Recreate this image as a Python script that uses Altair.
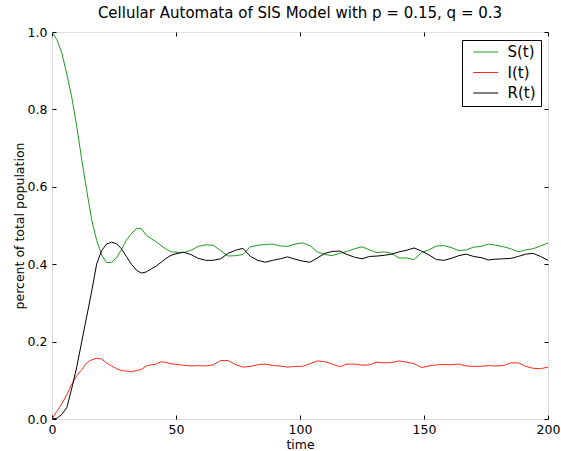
import altair as alt
import pandas as pd

time = [0, 2, 4, 6, 8, 10, 12, 14, 16, 18, 20, 22, 24, 26, 28, 30, 32, 34, 36, 38,
        40, 42, 44, 46, 48, 50, 53, 56, 59, 62, 65, 68, 71, 74, 77, 80, 83, 86, 89,
        92, 95, 98, 101, 104, 107, 110, 113, 116, 119, 122, 125, 128, 131, 134, 137,
        140, 143, 146, 149, 152, 155, 158, 161, 164, 167, 170, 173, 176, 179, 182,
        185, 188, 191, 194, 197, 200]

S = [1.0, 0.98, 0.945, 0.89, 0.83, 0.755, 0.67, 0.59, 0.515, 0.462, 0.424, 0.404,
     0.405, 0.416, 0.438, 0.462, 0.479, 0.492, 0.492, 0.475, 0.466, 0.458, 0.448,
     0.439, 0.432, 0.431, 0.43, 0.436, 0.446, 0.45, 0.449, 0.435, 0.421, 0.422,
     0.425, 0.445, 0.449, 0.451, 0.452, 0.447, 0.446, 0.452, 0.455, 0.448, 0.432,
     0.425, 0.422, 0.428, 0.433, 0.44, 0.445, 0.437, 0.43, 0.432, 0.428, 0.416,
     0.416, 0.412, 0.43, 0.437, 0.447, 0.448, 0.443, 0.435, 0.437, 0.444, 0.446,
     0.452, 0.449, 0.445, 0.44, 0.432, 0.437, 0.44, 0.447, 0.455]

I = [0.0, 0.02, 0.04, 0.063, 0.09, 0.112, 0.128, 0.145, 0.153, 0.157, 0.155, 0.145,
     0.137, 0.13, 0.125, 0.124, 0.122, 0.125, 0.128, 0.137, 0.14, 0.142, 0.148,
     0.146, 0.143, 0.141, 0.139, 0.137, 0.138, 0.137, 0.14, 0.151, 0.151, 0.141,
     0.134, 0.136, 0.14, 0.142, 0.138, 0.137, 0.134, 0.136, 0.136, 0.143, 0.15,
     0.148, 0.142, 0.135, 0.142, 0.142, 0.139, 0.14, 0.147, 0.145, 0.146, 0.15,
     0.147, 0.143, 0.133, 0.137, 0.14, 0.141, 0.14, 0.142, 0.137, 0.136, 0.136,
     0.138, 0.137, 0.138, 0.145, 0.145, 0.136, 0.131, 0.13, 0.134]

R = [0.0, 0.002, 0.012, 0.03, 0.08, 0.135, 0.2, 0.265, 0.33, 0.4, 0.435, 0.452,
     0.457, 0.453, 0.44, 0.42, 0.4, 0.385, 0.377, 0.38, 0.388, 0.395, 0.405, 0.415,
     0.423, 0.427, 0.431, 0.425, 0.415, 0.41, 0.41, 0.414, 0.428, 0.436, 0.441,
     0.42, 0.41, 0.405, 0.41, 0.414, 0.419, 0.413, 0.408, 0.405, 0.416, 0.428,
     0.433, 0.434, 0.425, 0.418, 0.414, 0.42, 0.421, 0.423, 0.426, 0.432, 0.436,
     0.442, 0.434, 0.424, 0.412, 0.41, 0.415, 0.422, 0.426, 0.42, 0.417, 0.411,
     0.413, 0.414, 0.415, 0.42, 0.426, 0.428, 0.42, 0.41]

series_names = ["S(t)", "I(t)", "R(t)"]
series_colors = ["#1f9a1f", "#ff2a1a", "#000000"]
x_ticks = [0, 50, 100, 150, 200]
y_ticks = [0.0, 0.2, 0.4, 0.6, 0.8, 1.0]

rows = []
for name, vals in zip(series_names, [S, I, R]):
    for t, v in zip(time, vals):
        rows.append({"time": t, "value": v, "series": name})
df = pd.DataFrame(rows)

FONT = "DejaVu Sans"
xscale = alt.Scale(domain=[0, 200], nice=False, zero=False)
yscale = alt.Scale(domain=[0, 1], nice=False)

common_axis = dict(domain=False, grid=False, ticks=True, tickSize=4, offset=-4,
                   tickColor="black", tickWidth=1, labelColor="black",
                   labelFont=FONT, labelFontSize=12.5, labelFlush=False,
                   labelOverlap=False, titleFont=FONT,
                   titleFontSize=12.5, titleFontWeight="normal", titleColor="black")

lines = alt.Chart(df).mark_line(strokeWidth=1, clip=True).encode(
    x=alt.X("time:Q", scale=xscale,
            axis=alt.Axis(orient="bottom", values=x_ticks, format="d", title="time",
                          labelPadding=4, titlePadding=3, **common_axis)),
    y=alt.Y("value:Q", scale=yscale,
            axis=alt.Axis(orient="left", values=y_ticks, format=".1f",
                          title="percent of total population", labelPadding=5,
                          titlePadding=1, **common_axis)),
    color=alt.Color("series:N",
                    scale=alt.Scale(domain=series_names, range=series_colors),
                    sort=series_names,
                    legend=alt.Legend(title=None, orient="none", legendX=410,
                                      legendY=8, symbolType="M-1,0H3",
                                      symbolSize=156, symbolStrokeWidth=1,
                                      symbolOffset=5.5,
                                      labelFont=FONT, labelFontSize=15,
                                      labelColor="black", strokeColor="black",
                                      fillColor="white", padding=4.5,
                                      rowPadding=4.5, labelOffset=20.5)),
    detail="series:N",
)

other_axis = dict(domain=False, grid=False, ticks=True, tickSize=4, offset=-4,
                  tickColor="black", tickWidth=1, labels=False, title=None)

frame_ticks = alt.Chart(df).mark_line(strokeOpacity=0).encode(
    x=alt.X("time:Q", scale=xscale,
            axis=alt.Axis(orient="top", values=x_ticks, **other_axis)),
    y=alt.Y("value:Q", scale=yscale,
            axis=alt.Axis(orient="right", values=y_ticks, **other_axis)),
    detail="series:N",
)

chart = alt.layer(lines, frame_ticks).resolve_axis(
    x="independent", y="independent"
).properties(
    width=496, height=387,
    title=alt.Title("Cellular Automata of SIS Model with p = 0.15, q = 0.3",
                    font=FONT, fontSize=15, fontWeight="normal", color="black",
                    offset=5, anchor="middle"),
    autosize=alt.AutoSizeParams(type="none"),
    padding={"left": 52, "top": 32, "right": 13, "bottom": 32},
).configure_view(stroke="black", strokeWidth=1).configure(background="white")

chart.save("out.html", embed_options={"renderer": "svg", "actions": False})
